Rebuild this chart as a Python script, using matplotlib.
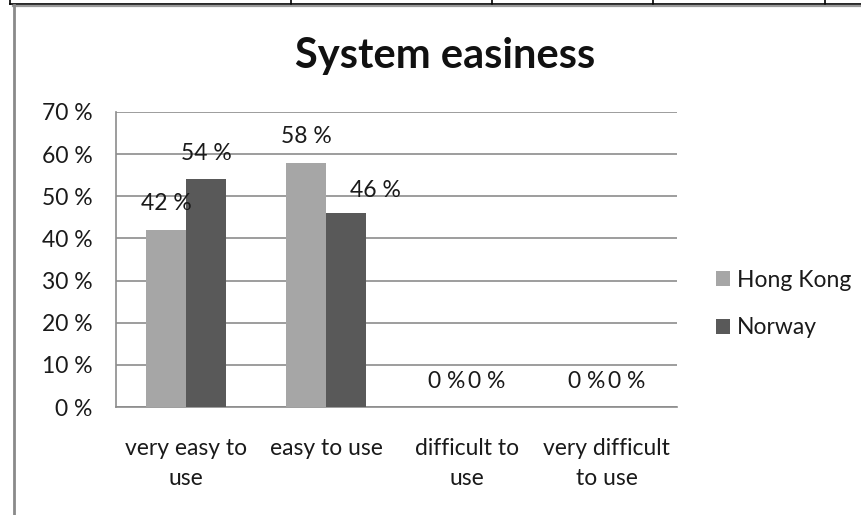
import matplotlib
matplotlib.use("Agg")
import matplotlib.pyplot as plt
from matplotlib.lines import Line2D
import numpy as np

# Survey answers on how easy the system is to use (share of respondents, %)
categories = ["very easy to\nuse", "easy to use", "difficult to\nuse", "very difficult\nto use"]
series_names = ["Hong Kong", "Norway"]
hong_kong = [42, 58, 0, 0]
norway = [54, 46, 0, 0]
y_ticks = [0, 10, 20, 30, 40, 50, 60, 70]
title = "System easiness"

colors = ["#a6a6a6", "#595959"]
grid_color = "#8c8c8c"
text_color = "#1a1a1a"
font = "Lato"
fs = 16.5

W, H = 862, 515
fig = plt.figure(figsize=(W / 100, H / 100), dpi=100)
fig.patch.set_facecolor("white")

# plot area
left, right, top, bottom = 116, 677, 112, 407
ax = fig.add_axes([left / W, 1 - bottom / H, (right - left) / W, (bottom - top) / H])
ax.set_facecolor("white")

x = np.arange(len(categories))
bw = 0.285
bars = []
for i, (vals, c) in enumerate(zip([hong_kong, norway], colors)):
    b = ax.bar(x + (i - 0.5) * bw, vals, width=bw, color=c, zorder=3,
               label=series_names[i], linewidth=0)
    bars.append(b)

ax.set_xlim(-0.5, len(categories) - 0.5)
ax.set_ylim(0, 70)
ax.set_yticks(y_ticks)
ax.set_yticklabels([f"{t} %" for t in y_ticks], fontsize=fs, family=font, color=text_color)
ax.set_xticks(x)
ax.set_xticklabels(categories, fontsize=fs, family=font, color=text_color, linespacing=1.55)
ax.tick_params(axis="both", length=0)
ax.tick_params(axis="y", pad=17)
ax.tick_params(axis="x", pad=22)

ax.yaxis.grid(True, color=grid_color, linewidth=1.2, zorder=0)
for s in ["top", "right"]:
    ax.spines[s].set_visible(False)
ax.spines["left"].set_color(grid_color)
ax.spines["left"].set_linewidth(1.2)
ax.spines["bottom"].set_color(grid_color)
ax.spines["bottom"].set_linewidth(1.2)

# value labels above the bars
shift = {(1, 1): (29, 23)}
for si, (b, vals) in enumerate(zip(bars, [hong_kong, norway])):
    for ci, (rect, v) in enumerate(zip(b, vals)):
        dx, dy = shift.get((si, ci), (0, 26))
        ax.annotate(f"{v} %", xy=(rect.get_x() + rect.get_width() / 2, v),
                    xytext=(dx, dy), textcoords="offset pixels",
                    ha="center", va="center", fontsize=fs, family=font,
                    color=text_color, zorder=4)

fig.text(445 / W, 1 - 56 / H, title, ha="center", va="center",
         fontsize=30, fontweight="bold", family=font, color="#111111")

leg = fig.legend(loc="center left", bbox_to_anchor=(716 / W, 1 - 304 / H),
                 frameon=False, prop={"family": font, "size": fs},
                 handlelength=0.62, handleheight=0.62, handletextpad=0.3,
                 labelspacing=1.15, borderpad=0, borderaxespad=0)
for t in leg.get_texts():
    t.set_color(text_color)

# surrounding frame lines
def hline(y, x0, x1, color, lw):
    fig.add_artist(Line2D([x0 / W, x1 / W], [1 - y / H, 1 - y / H], color=color,
                          linewidth=lw, transform=fig.transFigure))

def vline(x0, y0, y1, color, lw):
    fig.add_artist(Line2D([x0 / W, x0 / W], [1 - y0 / H, 1 - y1 / H], color=color,
                          linewidth=lw, transform=fig.transFigure))

hline(3.8, 10, W, "black", 1.2)
for tx in [10, 291, 492, 653, 825]:
    vline(tx, 0, 4, "black", 1.2)
hline(5.8, 13, W, "#9a9a9a", 1.6)
vline(14, 5, H, "#8a8a8a", 2.0)

fig.savefig("out.png", dpi=100, facecolor="white")
